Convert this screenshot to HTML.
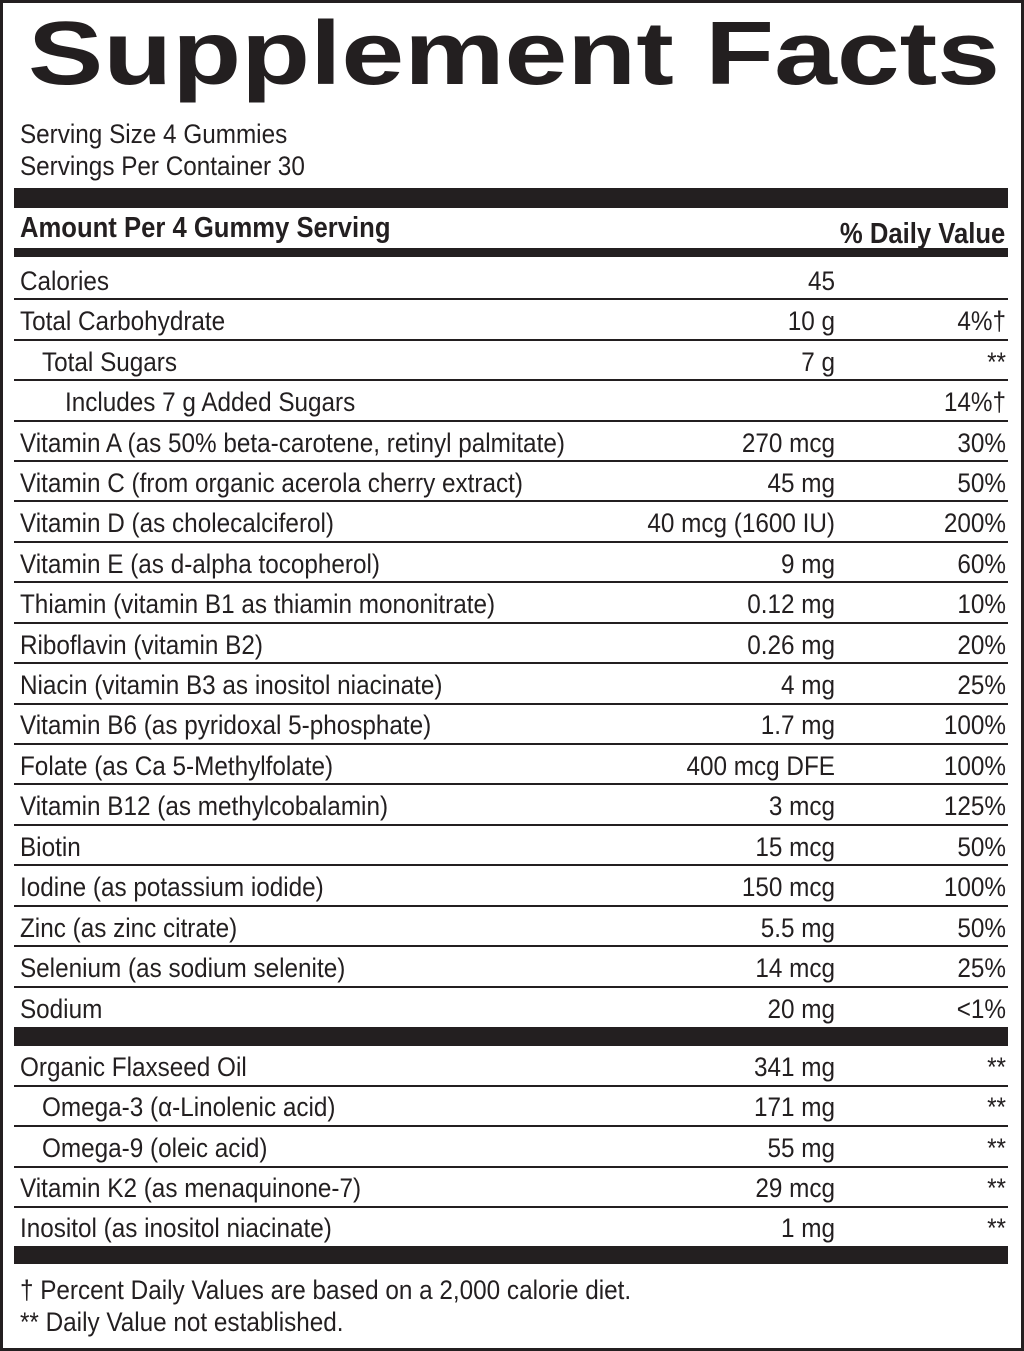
<!DOCTYPE html><html><head><style>body{margin:0;background:#fff}svg{display:block}text{font-family:"Liberation Sans",sans-serif;fill:#231f20}</style></head><body>
<svg width="1024" height="1351" viewBox="0 0 1024 1351" xmlns="http://www.w3.org/2000/svg">
<rect x="1.5" y="1.5" width="1021" height="1348" fill="#fff" stroke="#231f20" stroke-width="3"/>
<text x="28" y="84" font-size="90" font-weight="bold" textLength="972" lengthAdjust="spacingAndGlyphs">Supplement Facts</text>
<g fill="#231f20">
<rect x="14" y="188" width="994" height="20"/>
<rect x="14" y="248" width="994" height="9"/>
<rect x="14" y="1027" width="994" height="19"/>
<rect x="14" y="1246" width="994" height="18"/>
<rect x="14" y="298" width="994" height="2"/><rect x="14" y="339" width="994" height="2"/><rect x="14" y="379" width="994" height="2"/><rect x="14" y="420" width="994" height="2"/><rect x="14" y="460" width="994" height="2"/><rect x="14" y="500" width="994" height="2"/><rect x="14" y="541" width="994" height="2"/><rect x="14" y="581" width="994" height="2"/><rect x="14" y="622" width="994" height="2"/><rect x="14" y="662" width="994" height="2"/><rect x="14" y="703" width="994" height="2"/><rect x="14" y="743" width="994" height="2"/><rect x="14" y="783" width="994" height="2"/><rect x="14" y="824" width="994" height="2"/><rect x="14" y="864" width="994" height="2"/><rect x="14" y="905" width="994" height="2"/><rect x="14" y="945" width="994" height="2"/><rect x="14" y="986" width="994" height="2"/>
<rect x="14" y="1085" width="994" height="2"/><rect x="14" y="1125" width="994" height="2"/><rect x="14" y="1166" width="994" height="2"/><rect x="14" y="1206" width="994" height="2"/>
</g>
<g transform="scale(0.9,1)" font-size="27">
<text x="22.2" y="143">Serving Size 4 Gummies</text>
<text x="22.2" y="175">Servings Per Container 30</text>
<text x="22.2" y="237" font-weight="bold" font-size="28.5">Amount Per 4 Gummy Serving</text>
<text x="1117" y="243" font-weight="bold" font-size="28.5" text-anchor="end">% Daily Value</text>
<g>
<text x="22.2" y="290">Calories</text>
<text x="22.2" y="330">Total Carbohydrate</text>
<text x="46.7" y="371">Total Sugars</text>
<text x="72.2" y="411">Includes 7 g Added Sugars</text>
<text x="22.2" y="452">Vitamin A (as 50% beta-carotene, retinyl palmitate)</text>
<text x="22.2" y="492">Vitamin C (from organic acerola cherry extract)</text>
<text x="22.2" y="532">Vitamin D (as cholecalciferol)</text>
<text x="22.2" y="573">Vitamin E (as d-alpha tocopherol)</text>
<text x="22.2" y="613">Thiamin (vitamin B1 as thiamin mononitrate)</text>
<text x="22.2" y="654">Riboflavin (vitamin B2)</text>
<text x="22.2" y="694">Niacin (vitamin B3 as inositol niacinate)</text>
<text x="22.2" y="734">Vitamin B6 (as pyridoxal 5-phosphate)</text>
<text x="22.2" y="775">Folate (as Ca 5-Methylfolate)</text>
<text x="22.2" y="815">Vitamin B12 (as methylcobalamin)</text>
<text x="22.2" y="856">Biotin</text>
<text x="22.2" y="896">Iodine (as potassium iodide)</text>
<text x="22.2" y="937">Zinc (as zinc citrate)</text>
<text x="22.2" y="977">Selenium (as sodium selenite)</text>
<text x="22.2" y="1018">Sodium</text>
<text x="22.2" y="1076">Organic Flaxseed Oil</text>
<text x="46.7" y="1116">Omega-3 (α-Linolenic acid)</text>
<text x="46.7" y="1157">Omega-9 (oleic acid)</text>
<text x="22.2" y="1197">Vitamin K2 (as menaquinone-7)</text>
<text x="22.2" y="1237">Inositol (as inositol niacinate)</text>
</g>
<g text-anchor="end">
<text x="927.8" y="290">45</text>
<text x="927.8" y="330">10 g</text>
<text x="927.8" y="371">7 g</text>
<text x="927.8" y="452">270 mcg</text>
<text x="927.8" y="492">45 mg</text>
<text x="927.8" y="532">40 mcg (1600 IU)</text>
<text x="927.8" y="573">9 mg</text>
<text x="927.8" y="613">0.12 mg</text>
<text x="927.8" y="654">0.26 mg</text>
<text x="927.8" y="694">4 mg</text>
<text x="927.8" y="734">1.7 mg</text>
<text x="927.8" y="775">400 mcg DFE</text>
<text x="927.8" y="815">3 mcg</text>
<text x="927.8" y="856">15 mcg</text>
<text x="927.8" y="896">150 mcg</text>
<text x="927.8" y="937">5.5 mg</text>
<text x="927.8" y="977">14 mcg</text>
<text x="927.8" y="1018">20 mg</text>
<text x="927.8" y="1076">341 mg</text>
<text x="927.8" y="1116">171 mg</text>
<text x="927.8" y="1157">55 mg</text>
<text x="927.8" y="1197">29 mcg</text>
<text x="927.8" y="1237">1 mg</text>
</g>
<g text-anchor="end">
<text x="1117.8" y="330">4%†</text>
<text x="1117.8" y="371">**</text>
<text x="1117.8" y="411">14%†</text>
<text x="1117.8" y="452">30%</text>
<text x="1117.8" y="492">50%</text>
<text x="1117.8" y="532">200%</text>
<text x="1117.8" y="573">60%</text>
<text x="1117.8" y="613">10%</text>
<text x="1117.8" y="654">20%</text>
<text x="1117.8" y="694">25%</text>
<text x="1117.8" y="734">100%</text>
<text x="1117.8" y="775">100%</text>
<text x="1117.8" y="815">125%</text>
<text x="1117.8" y="856">50%</text>
<text x="1117.8" y="896">100%</text>
<text x="1117.8" y="937">50%</text>
<text x="1117.8" y="977">25%</text>
<text x="1117.8" y="1018">&lt;1%</text>
<text x="1117.8" y="1076">**</text>
<text x="1117.8" y="1116">**</text>
<text x="1117.8" y="1157">**</text>
<text x="1117.8" y="1197">**</text>
<text x="1117.8" y="1237">**</text>
</g>
<text x="22.2" y="1299">† Percent Daily Values are based on a 2,000 calorie diet.</text>
<text x="22.2" y="1331">** Daily Value not established.</text>
</g>
</svg></body></html>
